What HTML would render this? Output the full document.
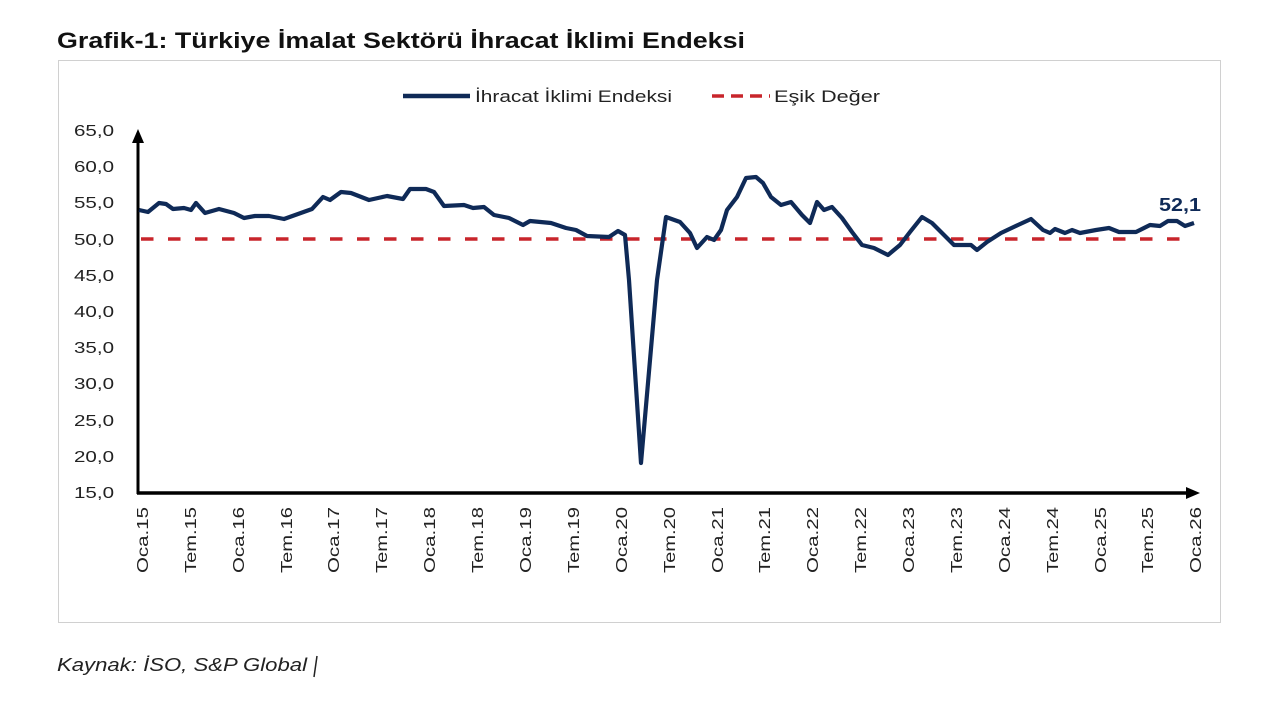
<!DOCTYPE html>
<html><head><meta charset="utf-8"><style>
body{margin:0;background:#fff;width:1280px;height:720px;overflow:hidden;font-family:"Liberation Sans",sans-serif}
</style></head><body>
<svg width="1280" height="720" xmlns="http://www.w3.org/2000/svg" font-family="Liberation Sans, DejaVu Sans, sans-serif">
<text x="57" y="48" font-size="22" font-weight="bold" fill="#111" textLength="688" lengthAdjust="spacingAndGlyphs">Grafik-1: Türkiye İmalat Sektörü İhracat İklimi Endeksi</text>
<rect x="58.5" y="60.5" width="1162" height="562" fill="#fff" stroke="#d0d0d0" stroke-width="1"/>
<line x1="403" y1="96" x2="470" y2="96" stroke="#0f2a57" stroke-width="4.5"/>
<text x="475" y="102" font-size="17" fill="#222" textLength="197" lengthAdjust="spacingAndGlyphs">İhracat İklimi Endeksi</text>
<line x1="712" y1="96" x2="770" y2="96" stroke="#c8252b" stroke-width="3.5" stroke-dasharray="12,7"/>
<text x="774" y="102" font-size="17" fill="#222" textLength="106" lengthAdjust="spacingAndGlyphs">Eşik Değer</text>
<g font-size="16" fill="#222">
<text x="74" y="136" textLength="40" lengthAdjust="spacingAndGlyphs">65,0</text><text x="74" y="172" textLength="40" lengthAdjust="spacingAndGlyphs">60,0</text><text x="74" y="208" textLength="40" lengthAdjust="spacingAndGlyphs">55,0</text><text x="74" y="245" textLength="40" lengthAdjust="spacingAndGlyphs">50,0</text><text x="74" y="281" textLength="40" lengthAdjust="spacingAndGlyphs">45,0</text><text x="74" y="317" textLength="40" lengthAdjust="spacingAndGlyphs">40,0</text><text x="74" y="353" textLength="40" lengthAdjust="spacingAndGlyphs">35,0</text><text x="74" y="389" textLength="40" lengthAdjust="spacingAndGlyphs">30,0</text><text x="74" y="426" textLength="40" lengthAdjust="spacingAndGlyphs">25,0</text><text x="74" y="462" textLength="40" lengthAdjust="spacingAndGlyphs">20,0</text><text x="74" y="498" textLength="40" lengthAdjust="spacingAndGlyphs">15,0</text>
</g>
<line x1="138" y1="140" x2="138" y2="494" stroke="#000" stroke-width="3"/>
<polygon points="138,129 132,143 144,143" fill="#000"/>
<line x1="137" y1="493" x2="1188" y2="493" stroke="#000" stroke-width="3.5"/>
<polygon points="1200,493 1186,487 1186,499" fill="#000"/>
<line x1="141" y1="239" x2="1194" y2="239" stroke="#c8252b" stroke-width="3.5" stroke-dasharray="12.5,14.5"/>
<polyline fill="none" stroke="#0f2a57" stroke-width="4.2" stroke-linejoin="round" points="139,210 148,212 159,203 166,204 173,209 184,208 191,210 196,203 205,213 219,209 234,213 244,218 255,216 269,216 284,219 298,214 312,209 323,197 330,200 341,192 351,193 369,200 387,196 403,199 410,189 426,189 434,192 444,206 464,205 473,208 484,207 494,215 509,218 523,225 530,221 551,223 566,228 576,230 587,236 609,237 618,231 625,235 629,280 641,463 657,280 666,217 680,222 690,233 697,248 707,237 714,240 721,230 727,210 737,197 746,178 756,177 763,183 771,197 781,205 791,202 802,215 810,223 817,202 824,210 832,207 842,218 852,232 862,245 874,248 888,255 900,245 910,232 922,217 932,223 944,235 954,245 971,245 977,250 987,242 1001,233 1018,225 1031,219 1043,230 1050,233 1055,229 1065,233 1072,230 1080,233 1096,230 1109,228 1119,232 1136,232 1150,225 1160,226 1168,221 1177,221 1185,226 1194,223"/>
<text x="1159" y="211" font-size="18" font-weight="bold" fill="#0f2a57" textLength="42" lengthAdjust="spacingAndGlyphs">52,1</text>
<g font-size="16" fill="#222" text-anchor="end">
<text transform="translate(148,507) rotate(-90)" textLength="66" lengthAdjust="spacingAndGlyphs">Oca.15</text>
<text transform="translate(196,507) rotate(-90)" textLength="66" lengthAdjust="spacingAndGlyphs">Tem.15</text>
<text transform="translate(244,507) rotate(-90)" textLength="66" lengthAdjust="spacingAndGlyphs">Oca.16</text>
<text transform="translate(292,507) rotate(-90)" textLength="66" lengthAdjust="spacingAndGlyphs">Tem.16</text>
<text transform="translate(339,507) rotate(-90)" textLength="66" lengthAdjust="spacingAndGlyphs">Oca.17</text>
<text transform="translate(387,507) rotate(-90)" textLength="66" lengthAdjust="spacingAndGlyphs">Tem.17</text>
<text transform="translate(435,507) rotate(-90)" textLength="66" lengthAdjust="spacingAndGlyphs">Oca.18</text>
<text transform="translate(483,507) rotate(-90)" textLength="66" lengthAdjust="spacingAndGlyphs">Tem.18</text>
<text transform="translate(531,507) rotate(-90)" textLength="66" lengthAdjust="spacingAndGlyphs">Oca.19</text>
<text transform="translate(579,507) rotate(-90)" textLength="66" lengthAdjust="spacingAndGlyphs">Tem.19</text>
<text transform="translate(627,507) rotate(-90)" textLength="66" lengthAdjust="spacingAndGlyphs">Oca.20</text>
<text transform="translate(675,507) rotate(-90)" textLength="66" lengthAdjust="spacingAndGlyphs">Tem.20</text>
<text transform="translate(723,507) rotate(-90)" textLength="66" lengthAdjust="spacingAndGlyphs">Oca.21</text>
<text transform="translate(770,507) rotate(-90)" textLength="66" lengthAdjust="spacingAndGlyphs">Tem.21</text>
<text transform="translate(818,507) rotate(-90)" textLength="66" lengthAdjust="spacingAndGlyphs">Oca.22</text>
<text transform="translate(866,507) rotate(-90)" textLength="66" lengthAdjust="spacingAndGlyphs">Tem.22</text>
<text transform="translate(914,507) rotate(-90)" textLength="66" lengthAdjust="spacingAndGlyphs">Oca.23</text>
<text transform="translate(962,507) rotate(-90)" textLength="66" lengthAdjust="spacingAndGlyphs">Tem.23</text>
<text transform="translate(1010,507) rotate(-90)" textLength="66" lengthAdjust="spacingAndGlyphs">Oca.24</text>
<text transform="translate(1058,507) rotate(-90)" textLength="66" lengthAdjust="spacingAndGlyphs">Tem.24</text>
<text transform="translate(1106,507) rotate(-90)" textLength="66" lengthAdjust="spacingAndGlyphs">Oca.25</text>
<text transform="translate(1153,507) rotate(-90)" textLength="66" lengthAdjust="spacingAndGlyphs">Tem.25</text>
<text transform="translate(1201,507) rotate(-90)" textLength="66" lengthAdjust="spacingAndGlyphs">Oca.26</text>
</g>
<text x="57" y="671" font-size="18" font-style="italic" fill="#222" textLength="250" lengthAdjust="spacingAndGlyphs">Kaynak: İSO, S&amp;P Global</text>
<line x1="314" y1="677" x2="317" y2="656" stroke="#222" stroke-width="1.5"/>
</svg>
</body></html>
